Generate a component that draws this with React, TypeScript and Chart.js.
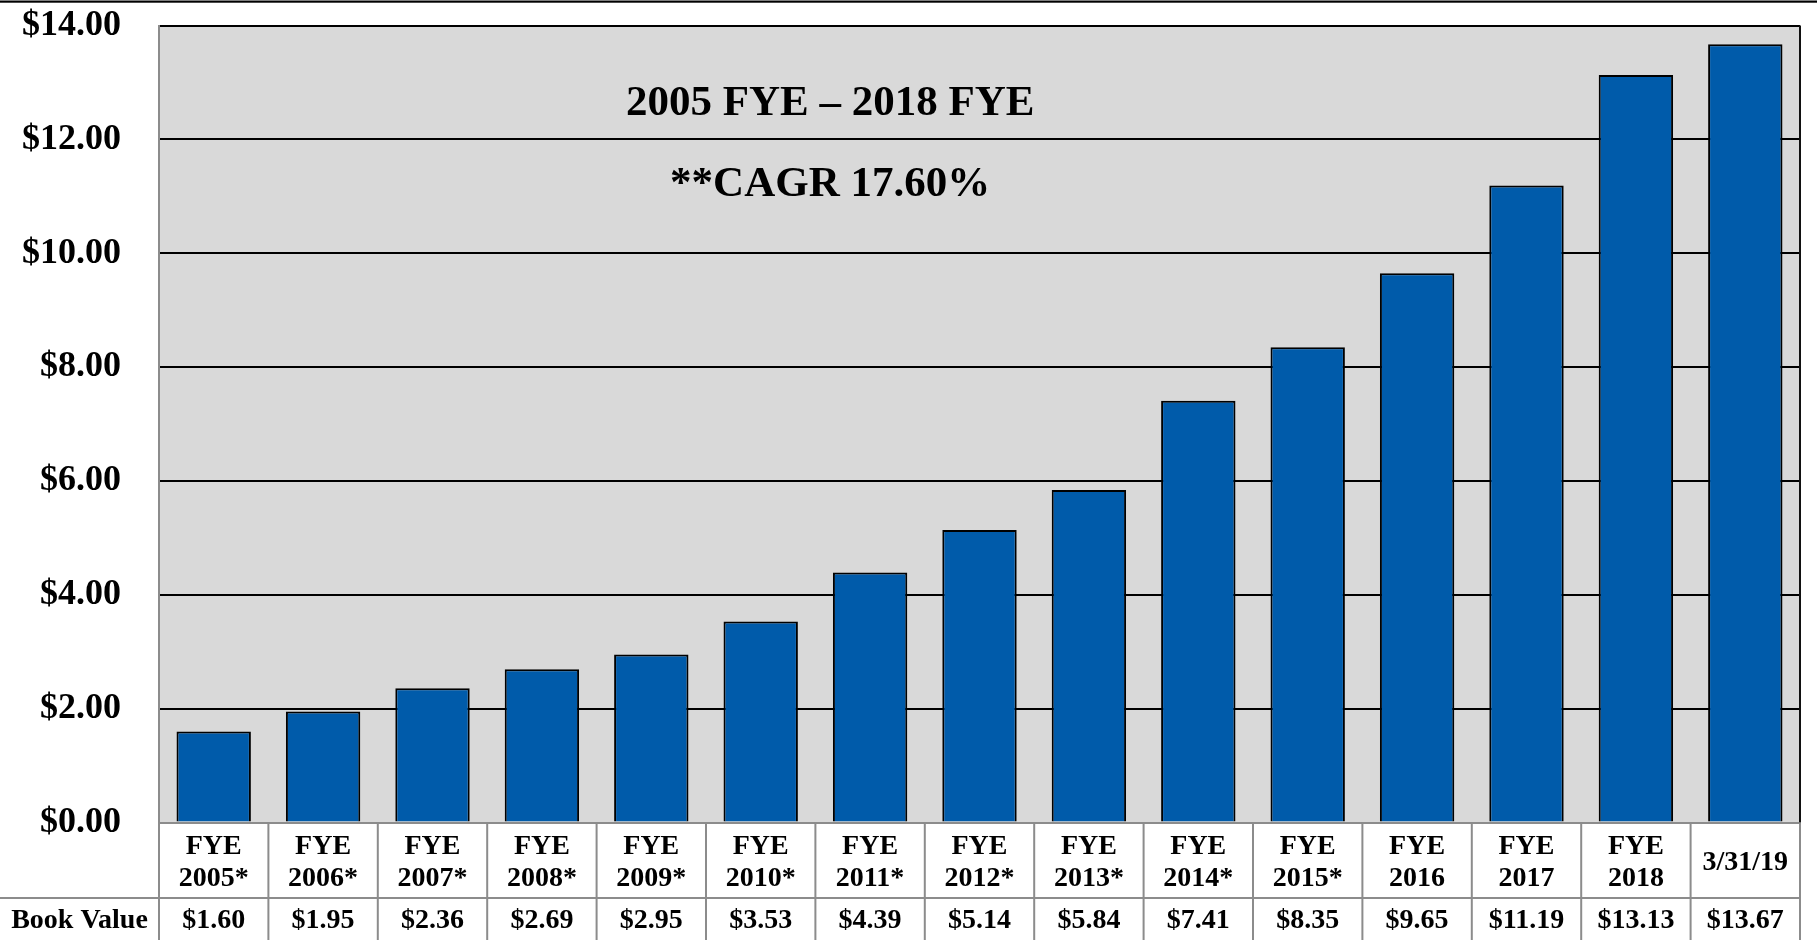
import React, { useEffect, useRef } from "react";
import { Chart, registerables } from "chart.js";

Chart.register(...registerables);

const categoryLines: string[][] = [
  ["FYE", "2005*"], ["FYE", "2006*"], ["FYE", "2007*"], ["FYE", "2008*"], ["FYE", "2009*"],
  ["FYE", "2010*"], ["FYE", "2011*"], ["FYE", "2012*"], ["FYE", "2013*"], ["FYE", "2014*"],
  ["FYE", "2015*"], ["FYE", "2016"], ["FYE", "2017"], ["FYE", "2018"], ["3/31/19"],
];
const bookValues: number[] = [1.60, 1.95, 2.36, 2.69, 2.95, 3.53, 4.39, 5.14, 5.84, 7.41, 8.35, 9.65, 11.19, 13.13, 13.67];
const yTicks: number[] = [0, 2, 4, 6, 8, 10, 12, 14];
const rowTitle = "Book Value";
const annotationLines: string[] = ["2005 FYE \u2013 2018 FYE", "**CAGR 17.60%"];
const annotationValues: number[] = [12.42, 11.0];

const SERIF = '"Liberation Serif", "Times New Roman", serif';

const tablePlugin = {
  id: "tablePlugin",
  beforeDraw(chart: any) {
    const { ctx, chartArea } = chart;
    ctx.save();
    ctx.fillStyle = "#D9D9D9";
    ctx.fillRect(chartArea.left, chartArea.top, chartArea.right - chartArea.left, chartArea.bottom - chartArea.top);
    ctx.restore();
  },
  afterDraw(chart: any) {
    const { ctx, chartArea, width, height } = chart;
    const x = chart.scales.x;
    const y = chart.scales.y;
    const n = categoryLines.length;
    const catW = (chartArea.right - chartArea.left) / n;
    const bottom = chartArea.bottom;
    const rowSplit = bottom + 75.5;
    ctx.save();
    // top rule
    ctx.fillStyle = "#000";
    ctx.fillRect(0, 0.5, width, 2.2);
    // right border of plot
    ctx.strokeStyle = "#111";
    ctx.lineWidth = 2;
    ctx.beginPath();
    ctx.moveTo(chartArea.right, chartArea.top);
    ctx.lineTo(chartArea.right, bottom);
    ctx.stroke();
    // table lines
    ctx.strokeStyle = "#8C8C8C";
    ctx.lineWidth = 2;
    ctx.beginPath();
    ctx.moveTo(0, rowSplit);
    ctx.lineTo(chartArea.right, rowSplit);
    for (let i = 0; i <= n; i++) {
      const xx = chartArea.left + i * catW;
      ctx.moveTo(xx, bottom);
      ctx.lineTo(xx, height);
    }
    ctx.stroke();
    // texts
    ctx.fillStyle = "#000";
    ctx.font = `bold 28px ${SERIF}`;
    ctx.textAlign = "center";
    ctx.textBaseline = "alphabetic";
    for (let i = 0; i < n; i++) {
      const cx = x.getPixelForValue(i);
      const lines = categoryLines[i];
      if (lines.length === 2) {
        ctx.fillText(lines[0], cx, bottom + 31.5);
        ctx.fillText(lines[1], cx, bottom + 63.5);
      } else {
        ctx.fillText(lines[0], cx, bottom + 47.5);
      }
      ctx.fillText("$" + bookValues[i].toFixed(2), cx, bottom + 105.5);
    }
    ctx.fillText(rowTitle, chartArea.left / 2, bottom + 105.5);
    // annotation
    ctx.font = `bold 43px ${SERIF}`;
    const ax = chartArea.left + 0.409 * (chartArea.right - chartArea.left);
    annotationLines.forEach((t, k) => {
      ctx.fillText(t, ax, y.getPixelForValue(annotationValues[k]));
    });
    ctx.restore();
  },
};

export default function App() {
  const ref = useRef<HTMLCanvasElement | null>(null);
  useEffect(() => {
    document.body.style.margin = "0";
    const canvas = ref.current;
    if (!canvas) return;
    const chart = new Chart(canvas, {
      type: "bar",
      data: {
        labels: categoryLines.map((l) => l.join(" ")),
        datasets: [
          {
            label: rowTitle,
            data: bookValues,
            backgroundColor: "#005BAA",
            borderColor: "#000",
            borderWidth: 2,
            barPercentage: 0.68,
            categoryPercentage: 1,
          },
        ],
      },
      options: {
        animation: false,
        responsive: false,
        maintainAspectRatio: false,
        layout: { padding: { left: 0, right: 17, top: 25.5, bottom: 0 } },
        plugins: { legend: { display: false }, tooltip: { enabled: false } },
        scales: {
          x: {
            grid: { display: false, drawTicks: false },
            border: { display: true, color: "#8C8C8C", width: 2 },
            ticks: { display: false },
            afterFit: (s: any) => { s.height = 117.5; s.paddingLeft = 0; s.paddingRight = 0; },
          },
          y: {
            min: 0,
            max: 14,
            afterBuildTicks: (s: any) => { s.ticks = yTicks.map((v) => ({ value: v })); },
            afterFit: (s: any) => { s.width = 159; s.paddingTop = 0; s.paddingBottom = 0; },
            grid: { color: "#000", lineWidth: 2, drawTicks: false },
            border: { display: true, color: "#8C8C8C", width: 2 },
            ticks: {
              padding: 38,
              color: "#000",
              font: { family: SERIF, size: 36, weight: "bold" },
              callback: (v: any) => "$" + Number(v).toFixed(2),
            },
          },
        },
      },
      plugins: [tablePlugin],
    });
    return () => chart.destroy();
  }, []);
  return (
    <div style={{ width: 1817, height: 940 }}>
      <canvas ref={ref} width={1817} height={940} style={{ display: "block", width: 1817, height: 940 }} />
    </div>
  );
}
